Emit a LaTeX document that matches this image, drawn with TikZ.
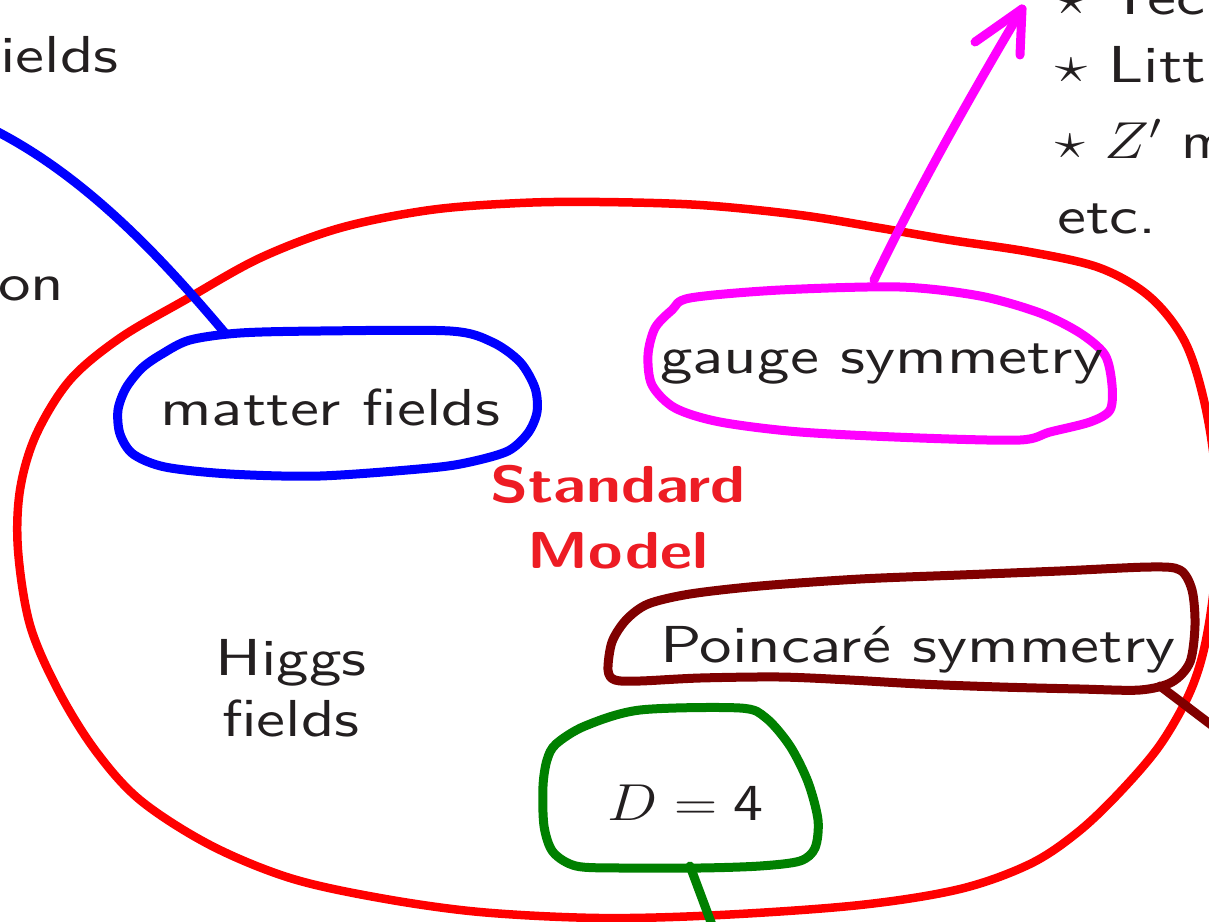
\RequirePackage{fix-cm}
\documentclass[tikz,border=0pt]{standalone}
\usepackage{graphicx}
\usepackage{fontspec}
\setsansfont{lmsans10-regular.otf}[BoldFont=lmsans10-bold.otf]
\definecolor{cRed}{RGB}{255,0,0}
\definecolor{cBlue}{RGB}{0,0,255}
\definecolor{cMag}{RGB}{255,0,255}
\definecolor{cDRed}{RGB}{128,0,0}
\definecolor{cGreen}{RGB}{0,128,0}
\definecolor{cSM}{RGB}{237,28,36}
\definecolor{cTxt}{RGB}{35,31,32}
\newcommand{\hs}[2]{\scalebox{#1}[1]{#2}}
\begin{document}
\begin{tikzpicture}[x=1pt,y=-1pt,
  pen/.style={line width=9pt, line join=round, line cap=round},
  lbl/.style={font=\fontsize{52}{61}\selectfont\sffamily, text=cTxt, inner sep=0pt},
  smlbl/.style={font=\fontsize{52}{66}\selectfont\sffamily\bfseries, text=cSM, inner sep=0pt, align=center}]
\useasboundingbox (0,0) rectangle (1209,921);
\clip (0,0) rectangle (1209,921);

% big red loop (Standard Model)
\draw[pen, cRed, line width=8.5pt] plot[smooth cycle, tension=0.55] coordinates {
 (600,202) (700,205) (800,215) (880,228) (950,240) (1030,252) (1100,268)
 (1150,297) (1185,342) (1205,405) (1216,480) (1216,565) (1206,640)
 (1190,692) (1160,745) (1120,792) (1078,832) (1030,864) (960,889)
 (860,905) (720,915) (600,918) (480,912) (380,898) (290,878) (210,845)
 (140,800) (95,750) (58,690) (30,625) (18,550) (20,490) (36,435)
 (70,380) (120,338) (185,300) (260,258) (340,228) (430,210) (520,203)};

% matter fields (blue)
\draw[pen, cBlue] plot[smooth cycle, tension=0.5] coordinates {
 (190,340) (240,333) (320,331) (450,331) (492,342) (520,362) (535,388)
 (537,412) (528,433) (508,451) (470,462) (430,468) (320,476) (230,474)
 (165,467) (133,454) (120,434) (118,410) (126,388) (142,368) (162,354)};
\coordinate (mfTop) at (225,333);
\coordinate (mfEnd) at (-2,132);
\draw[pen, cBlue] (mfTop) .. controls (165,262) and (90,180) .. (mfEnd);

% gauge symmetry (magenta)
\draw[pen, cMag] plot[smooth cycle, tension=0.5] coordinates {
 (690,298) (780,290) (900,287) (980,296) (1040,313) (1080,333) (1105,355)
 (1112,385) (1110,410) (1090,422) (1050,432) (1020,440) (920,438)
 (800,432) (720,422) (675,408) (652,385) (648,355) (655,328) (672,310)};
\coordinate (gTop) at (874,280);
\coordinate (gTip) at (1022,9);
\draw[pen, cMag] (gTop) .. controls (915,195) and (965,105) .. (gTip);
\draw[pen, cMag] (975,42) -- (gTip) -- (1020,55);

% Poincare symmetry (dark red)
\draw[pen, cDRed] plot[smooth cycle, tension=0.5] coordinates {
 (608,670) (612,642) (626,620) (648,604) (690,594) (760,586) (860,579)
 (960,575) (1060,571) (1150,567) (1180,570) (1192,590) (1195,625)
 (1190,662) (1172,682) (1140,690) (1080,689) (1000,687) (920,684)
 (850,680) (780,677) (700,678) (640,681) (615,680)};
\coordinate (pTail) at (1160,686);
\coordinate (pEnd) at (1218,730);
\draw[pen, cDRed] (pTail) -- (pEnd);

% D = 4 (green)
\draw[pen, cGreen] plot[smooth cycle, tension=0.5] coordinates {
 (556,744) (585,726) (640,710) (740,708) (766,718) (790,746) (808,782)
 (818,820) (815,848) (800,861) (760,866) (700,868) (620,868) (576,866)
 (553,852) (544,826) (543,786) (547,760)};
\coordinate (dTail) at (690,866);
\coordinate (dEnd) at (712,925);
\draw[pen, cGreen] (dTail) -- (dEnd);

% labels
\node[lbl, anchor=base west] (mf) at (160,425) {\hs{1.25}{matter fields}};
\node[lbl, anchor=base west] (gs) at (660,373) {\hs{1.25}{gauge symmetry}};
\node[lbl, anchor=base west] (ps) at (660,662) {\hs{1.25}{Poincaré symmetry}};
\node[lbl, anchor=base west] (dd) at (607,820) {\hs{1.15}{$D=\mathsf{4}$}};
\node[lbl, align=center] (hf) at (291,688) {\hs{1.25}{Higgs}\\\hs{1.25}{fields}};
\node[smlbl] (sm) at (618,517) {\hs{1.2}{Standard}\\\hs{1.2}{Model}};

% texts cut by the edges
\node[lbl, anchor=base west] (l1) at (1055,14) {\hs{1.25}{$\star$ Tec}};
\node[lbl, anchor=base west] (l2) at (1055,82) {\hs{1.25}{$\star$ Litt}};
\node[lbl, anchor=base west] (l3) at (1055,158) {\hs{1.16}{$\star$ $Z'$ m}};
\node[lbl, anchor=base west] (l4) at (1057,233) {\hs{1.25}{etc.}};
\node[lbl, anchor=base west] (lf) at (0,72) {\hs{1.25}{ields}};
\node[lbl, anchor=base west] (lo) at (-2,300) {\hs{1.25}{on}};
\end{tikzpicture}
\end{document}
